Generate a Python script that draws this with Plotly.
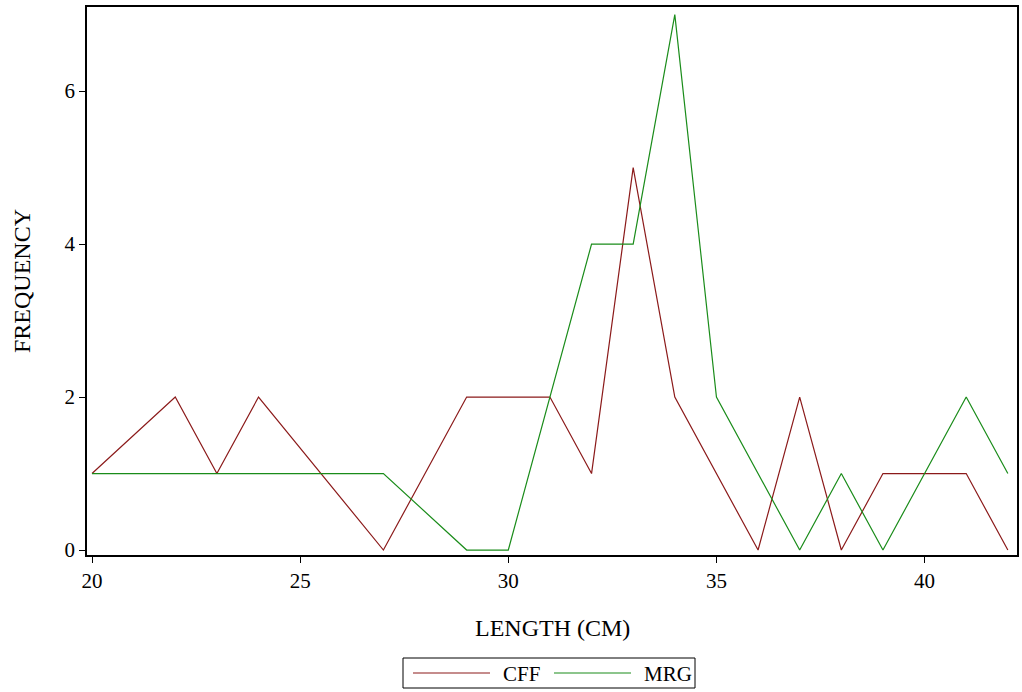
import plotly.graph_objects as go

cff_x = [20, 22, 23, 24, 27, 29, 31, 32, 33, 34, 36, 37, 38, 39, 41, 42]
cff_y = [1, 2, 1, 2, 0, 2, 2, 1, 5, 2, 0, 2, 0, 1, 1, 0]
mrg_x = [20, 27, 29, 30, 32, 33, 34, 35, 37, 38, 39, 41, 42]
mrg_y = [1, 1, 0, 0, 4, 4, 7, 2, 0, 1, 0, 2, 1]

series_names = ["CFF", "MRG"]
series_colors = ["#8B1A1A", "#1A8C1A"]

x_ticks = [20, 25, 30, 35, 40]
y_ticks = [0, 2, 4, 6]

font_family = "Liberation Serif"

W, H = 1022, 692
ML, MR, MT, MB = 87, 5, 7, 137
PW, PH = W - ML - MR, H - MT - MB


def px_x(p):
    return (p - ML) / PW


def px_y(p):
    return (H - MB - p) / PH


fig = go.Figure()
for name, xs, ys, col in zip(series_names, [cff_x, mrg_x], [cff_y, mrg_y], series_colors):
    fig.add_trace(go.Scatter(x=xs, y=ys, mode="lines", name=name,
                             line=dict(color=col, width=1.2), showlegend=False))

axis_common = dict(showgrid=False, zeroline=False, showline=True, linecolor="black",
                   linewidth=1.5, mirror=True, ticks="outside", ticklen=6,
                   tickcolor="black", tickwidth=1, automargin=False,
                   tickfont=dict(family=font_family, size=21, color="black"))

# legend (drawn manually to mimic the boxed SAS-style legend)
shapes = [dict(type="rect", xref="paper", yref="paper",
               x0=px_x(403), x1=px_x(695), y0=px_y(688), y1=px_y(658),
               line=dict(color="black", width=1), fillcolor="white")]
annotations = [
    dict(text="LENGTH (CM)", xref="paper", yref="paper", x=0.5, y=0,
         xanchor="center", yanchor="middle", yshift=-73, showarrow=False,
         font=dict(family=font_family, size=24, color="black")),
    dict(text="FREQUENCY", xref="paper", yref="paper", x=0, y=0.5,
         xanchor="center", yanchor="middle", xshift=-65, textangle=-90,
         showarrow=False, font=dict(family=font_family, size=24, color="black")),
]
leg_line_starts = [413, 554]
leg_text_starts = [501, 642]
for name, col, ls, ts in zip(series_names, series_colors, leg_line_starts, leg_text_starts):
    shapes.append(dict(type="line", xref="paper", yref="paper",
                       x0=px_x(ls), x1=px_x(ls + 77), y0=px_y(673), y1=px_y(673),
                       line=dict(color=col, width=1.2)))
    annotations.append(dict(text=name, xref="paper", yref="paper",
                            x=px_x(ts), y=px_y(674), xanchor="left", yanchor="middle",
                            showarrow=False,
                            font=dict(family=font_family, size=21, color="black")))

fig.update_layout(
    width=W, height=H,
    margin=dict(l=ML, r=MR, t=MT, b=MB),
    paper_bgcolor="white", plot_bgcolor="white",
    font=dict(family=font_family, color="black"),
    xaxis=dict(range=[19.88, 42.22], tickvals=x_ticks, **axis_common),
    yaxis=dict(range=[-0.065, 7.1], tickvals=y_ticks, **axis_common),
    showlegend=False,
    shapes=shapes,
    annotations=annotations,
)

fig.write_html("out.html")
